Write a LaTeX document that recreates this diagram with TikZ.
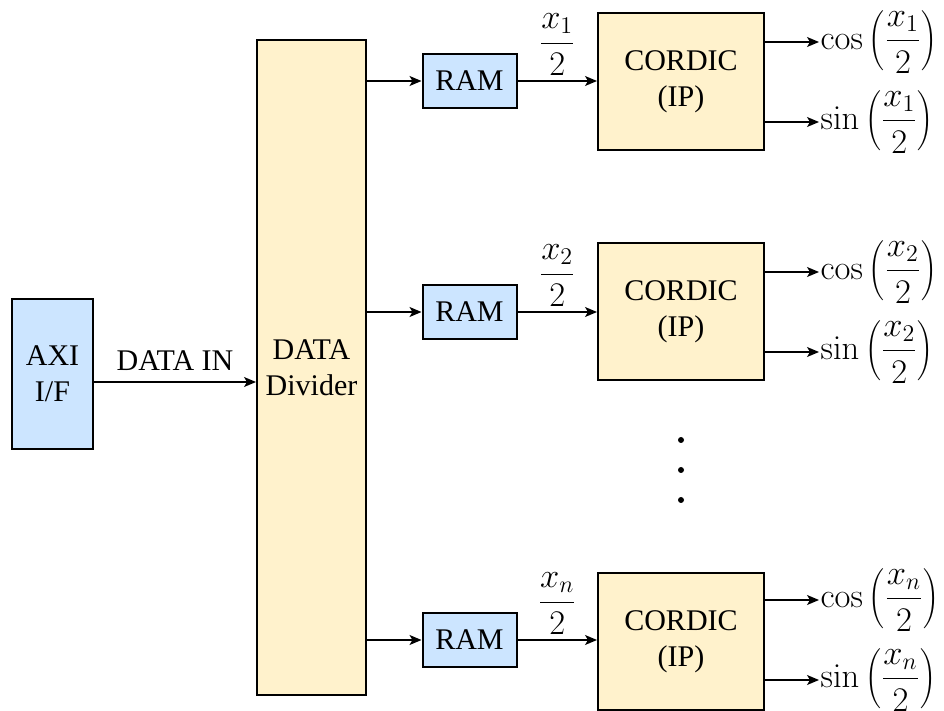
\documentclass[tikz,border=0pt]{standalone}
\usepackage[no-math]{fontspec}
\setmainfont{Liberation Serif}
\newfontfamily\tnr{Liberation Serif}
\usetikzlibrary{arrows.meta}
\definecolor{bluef}{HTML}{CCE5FF}
\definecolor{yelf}{HTML}{FFF2CC}
\newcommand{\mathbig}{\fontsize{17.28}{20}\selectfont}
\begin{document}
\begin{tikzpicture}[x=0.5pt,y=-0.5pt,
  font=\tnr\fontsize{15}{18}\selectfont,
  blk/.style={draw=black, line width=1pt, inner sep=0pt, align=center},
  bluebox/.style={blk, fill=bluef},
  yelbox/.style={blk, fill=yelf},
  rambox/.style={bluebox, minimum width=47pt, minimum height=27pt},
  cordbox/.style={yelbox, minimum width=83pt, minimum height=68.5pt},
  arr/.style={line width=0.65pt, -{Stealth[length=6pt,width=5pt,inset=1.5pt]}},
  outlbl/.style={right, inner sep=0.5pt, font=\mathbig},
  fraclbl/.style={midway, above=2.5pt, inner sep=0pt, font=\mathbig}]
\useasboundingbox (0,0) rectangle (944,711);

\node[bluebox, minimum width=40.5pt, minimum height=75pt] (axi) at (52.5,374) {AXI\\I/F};
\node[yelbox, minimum width=54.5pt, minimum height=327.5pt] (div) at (311.5,367.5) {DATA\\Divider};

\node[rambox] (ram1) at (469.5,81) {RAM};
\node[rambox] (ram2) at (469.5,312) {RAM};
\node[rambox] (ram3) at (469.5,640) {RAM};

\node[cordbox] (cor1) at (681,81.5) {CORDIC\\(IP)};
\node[cordbox] (cor2) at (681,312) {CORDIC\\(IP)};
\node[cordbox] (cor3) at (681,641.5) {CORDIC\\(IP)};

\coordinate (din) at (0,382);
\draw[arr] (axi.east |- din) -- node[midway, above=2pt] {DATA IN} (div.west |- din);

\draw[arr] (div.east |- ram1.west) -- (ram1.west);
\draw[arr] (div.east |- ram2.west) -- (ram2.west);
\draw[arr] (div.east |- ram3.west) -- (ram3.west);

\draw[arr] (ram1.east) -- node[fraclbl] {$\displaystyle\frac{x_1}{2}$} (cor1.west |- ram1.east);
\draw[arr] (ram2.east) -- node[fraclbl] {$\displaystyle\frac{x_2}{2}$} (cor2.west |- ram2.east);
\draw[arr] (ram3.east) -- node[fraclbl] {$\displaystyle\frac{x_n}{2}$} (cor3.west |- ram3.east);

\coordinate (c1) at (0,42);  \coordinate (s1) at (0,122);
\coordinate (c2) at (0,272); \coordinate (s2) at (0,352);
\coordinate (c3) at (0,600); \coordinate (s3) at (0,680);

\draw[arr] (cor1.east |- c1) -- ++(54,0) node[outlbl] {$\displaystyle\cos\left(\frac{x_1}{2}\right)$};
\draw[arr] (cor1.east |- s1) -- ++(54,0) node[outlbl] {$\displaystyle\sin\left(\frac{x_1}{2}\right)$};
\draw[arr] (cor2.east |- c2) -- ++(54,0) node[outlbl] {$\displaystyle\cos\left(\frac{x_2}{2}\right)$};
\draw[arr] (cor2.east |- s2) -- ++(54,0) node[outlbl] {$\displaystyle\sin\left(\frac{x_2}{2}\right)$};
\draw[arr] (cor3.east |- c3) -- ++(54,0) node[outlbl] {$\displaystyle\cos\left(\frac{x_n}{2}\right)$};
\draw[arr] (cor3.east |- s3) -- ++(54,0) node[outlbl] {$\displaystyle\sin\left(\frac{x_n}{2}\right)$};

\fill (681,440) circle (3);
\fill (681,470) circle (3);
\fill (681,500) circle (3);
\end{tikzpicture}
\end{document}
